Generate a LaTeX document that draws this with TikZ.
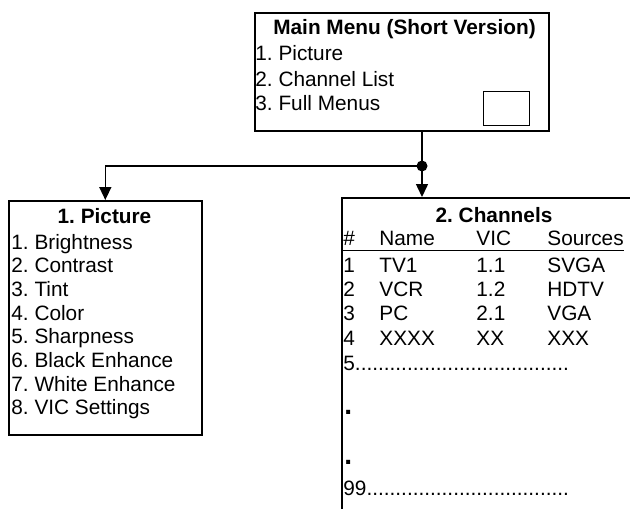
\documentclass[tikz,border=0pt]{standalone}
\usepackage{fontspec}
\setmainfont{Liberation Sans}
\usetikzlibrary{arrows.meta}

\newcommand\boxfont{\fontsize{10.4}{12.5}\selectfont\frenchspacing}

\begin{document}
\begin{tikzpicture}[x=0.5pt,y=-0.5pt,>={Triangle[length=6.5pt,width=6pt]},
    menubox/.style={draw,line width=0.8pt,inner sep=0pt,anchor=north west},
    head/.style={font=\boxfont\bfseries,inner sep=0pt,anchor=base},
    entry/.style={font=\boxfont,inner sep=0pt,anchor=base west},
    link/.style={line width=0.75pt}]
  \useasboundingbox (0,0) rectangle (630,508);
  \clip (0,0) rectangle (630,508);

  % main menu
  \node[menubox,minimum width=147pt,minimum height=59pt] (mainbox) at (254,12) {};
  \node[head] (maintitle) at (404.5,35) {Main Menu (Short Version)};
  \node[entry] (m1) at (255,61) {1. Picture};
  \node[entry] (m2) at (255,86) {2. Channel List};
  \node[entry] (m3) at (255,110) {3. Full Menus};
  \node[draw,line width=0.5pt,minimum width=23pt,minimum height=17pt,
        inner sep=0pt,anchor=north west] (selbox) at (483,91) {};

  % picture menu
  \node[menubox,minimum width=96.5pt,minimum height=117pt] (picbox) at (8,200) {};
  \node[head] (pictitle) at (104.5,223) {1. Picture};
  \foreach \i/\txt in {1/Brightness,2/Contrast,3/Tint,4/Color,5/Sharpness,
                       6/Black Enhance,7/White Enhance,8/VIC Settings}
    \node[entry] (p\i) at (11,{249+23.7*(\i-1)}) {\i. \txt};

  % channel list, runs off the page
  \node[menubox,minimum width=150pt,minimum height=160pt] (chanbox) at (341,197) {};
  \node[head] (chantitle) at (494,222) {2. Channels};
  \node[entry] (hnum) at (343,245) {\#};
  \node[entry] (hname) at (379,245) {Name};
  \node[entry] (hvic) at (476,245) {VIC};
  \node[entry] (hsrc) at (547,245) {Sources};
  \draw[line width=0.7pt] ([yshift=-2.7pt]hnum.base west) -- ([yshift=-2.7pt]hsrc.base east);
  \foreach \i/\nm/\vc/\src in {1/TV1/1.1/SVGA,2/VCR/1.2/HDTV,3/PC/2.1/VGA,4/XXXX/XX/XXX}{
    \node[entry] (cnum\i) at (343,{272+24.4*(\i-1)}) {\i};
    \node[entry] (cname\i) at (379,{272+24.4*(\i-1)}) {\nm};
    \node[entry] (cvic\i) at (476,{272+24.4*(\i-1)}) {\vc};
    \node[entry] (csrc\i) at (547,{272+24.4*(\i-1)}) {\src};
  }
  \node[entry] (c5) at (343,370) {5.....................................};
  \node[entry,font=\fontsize{14}{16}\selectfont\bfseries] (gap1) at (344,414) {.};
  \node[entry,font=\fontsize{14}{16}\selectfont\bfseries] (gap2) at (344,464) {.};
  \node[entry] (c99) at (343,495) {99...................................};

  % connectors
  \coordinate (junc) at (422,166);
  \draw[link] (mainbox.south -| junc) -- (junc);
  \draw[link,->] (junc) -| (picbox.north);
  \draw[link,->] (junc) -- (junc |- chanbox.north);
  \fill (junc) circle (5.5);
\end{tikzpicture}
\end{document}
